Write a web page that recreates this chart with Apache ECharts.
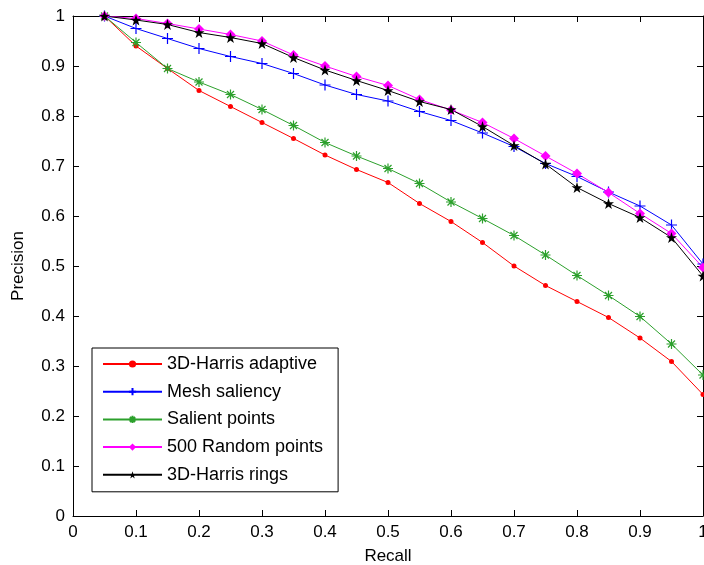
<!DOCTYPE html>
<html>
<head>
<meta charset="utf-8">
<script src="https://cdn.jsdelivr.net/npm/echarts@6/dist/echarts.min.js"></script>
<style>html,body{margin:0;padding:0;background:#fff;}#c{width:704px;height:565px;}</style>
</head>
<body>
<div id="c"></div>
<script>
const recall = [0.05,0.1,0.15,0.2,0.25,0.3,0.35,0.4,0.45,0.5,0.55,0.6,0.65,0.7,0.75,0.8,0.85,0.9,0.95,1.0];
const harrisAdaptive = [1.0,0.94,0.895,0.851,0.819,0.787,0.755,0.722,0.693,0.667,0.625,0.589,0.547,0.5,0.461,0.429,0.397,0.356,0.309,0.243];
const meshSaliency = [1.0,0.975,0.955,0.935,0.919,0.905,0.885,0.862,0.843,0.83,0.809,0.791,0.766,0.739,0.705,0.679,0.648,0.62,0.582,0.504];
const salientPoints = [1.0,0.947,0.895,0.868,0.843,0.813,0.781,0.747,0.72,0.695,0.665,0.628,0.595,0.561,0.522,0.481,0.441,0.399,0.344,0.282];
const randomPoints = [1.0,0.995,0.985,0.974,0.963,0.95,0.922,0.9,0.879,0.861,0.833,0.812,0.787,0.755,0.72,0.685,0.647,0.605,0.565,0.497];
const harrisRings = [1.0,0.992,0.983,0.967,0.957,0.945,0.917,0.892,0.871,0.851,0.829,0.813,0.779,0.741,0.704,0.657,0.625,0.597,0.557,0.48];
const seriesNames = ['3D-Harris adaptive','Mesh saliency','Salient points','500 Random points','3D-Harris rings'];

const FONT = 'Liberation Sans, Arial, sans-serif';
const pair = arr => recall.map((x,i)=>[x,arr[i]]);
const STAR = 'path://M10,0L12.245,6.91L19.51,6.91L13.633,11.18L15.88,18.09L10,13.82L4.12,18.09L6.367,11.18L0.49,6.91L7.755,6.91Z';
const PLUS = 'path://M5,0L5,10M0,5L10,5';
const AST = 'path://M5,0L5,10M0,5L10,5M1.5,1.5L8.5,8.5M8.5,1.5L1.5,8.5';

function mk(name, data, color, symbol, size, bw){
  return {
    name, type:'line', data: pair(data), symbol, symbolSize:size,
    lineStyle:{color, width:1}, itemStyle:{color, borderColor:color, borderWidth:bw},
    xAxisIndex:0, yAxisIndex:0
  };
}

const chart = echarts.init(document.getElementById('c'), null, {renderer:'canvas'});
const axisCommon = {
  min:0, max:1, interval:0.1,
  axisLine:{show:true, onZero:false, lineStyle:{color:'#000', width:1}},
  axisTick:{show:true, inside:true, length:6, lineStyle:{color:'#000'}},
  splitLine:{show:false}
};
chart.setOption({
  animation:false,
  backgroundColor:'#fff',
  textStyle:{fontFamily:FONT},
  grid:{left:73, right:1, top:16, bottom:49, containLabel:false, outerBoundsMode:'none'},
  xAxis:[
    Object.assign({type:'value', position:'bottom', name:'Recall', nameLocation:'middle', nameGap:32,
      nameTextStyle:{fontSize:17, color:'#000', fontFamily:FONT},
      axisLabel:{fontSize:17, color:'#000', margin:8, fontFamily:FONT}}, axisCommon),
    Object.assign({type:'value', position:'top', axisLabel:{show:false}}, axisCommon)
  ],
  yAxis:[
    Object.assign({type:'value', position:'left', name:'Precision', nameLocation:'middle', nameGap:46, nameRotate:90,
      nameTextStyle:{fontSize:17, color:'#000', fontFamily:FONT},
      axisLabel:{fontSize:17, color:'#000', margin:8, fontFamily:FONT}}, axisCommon),
    Object.assign({type:'value', position:'right', axisLabel:{show:false}}, axisCommon)
  ],
  legend:{
    data: seriesNames, orient:'vertical', left:92, top:348,
    itemWidth:59, itemHeight:9, itemGap:9.7,
    padding:[7,15,8,10], borderColor:'#000', borderWidth:1, backgroundColor:'#fff',
    textStyle:{fontSize:18, color:'#000', lineHeight:18, fontFamily:FONT}
  },
  series:[
    mk(seriesNames[0], harrisAdaptive, '#ff0000', 'circle', 5, 0),
    mk(seriesNames[1], meshSaliency, '#0000ff', PLUS, 11, 1.2),
    mk(seriesNames[2], salientPoints, '#2ca02c', AST, 10, 1.2),
    mk(seriesNames[3], randomPoints, '#ff00ff', 'diamond', 10, 0),
    mk(seriesNames[4], harrisRings, '#000000', STAR, 11, 0)
  ]
});
</script>
</body>
</html>
